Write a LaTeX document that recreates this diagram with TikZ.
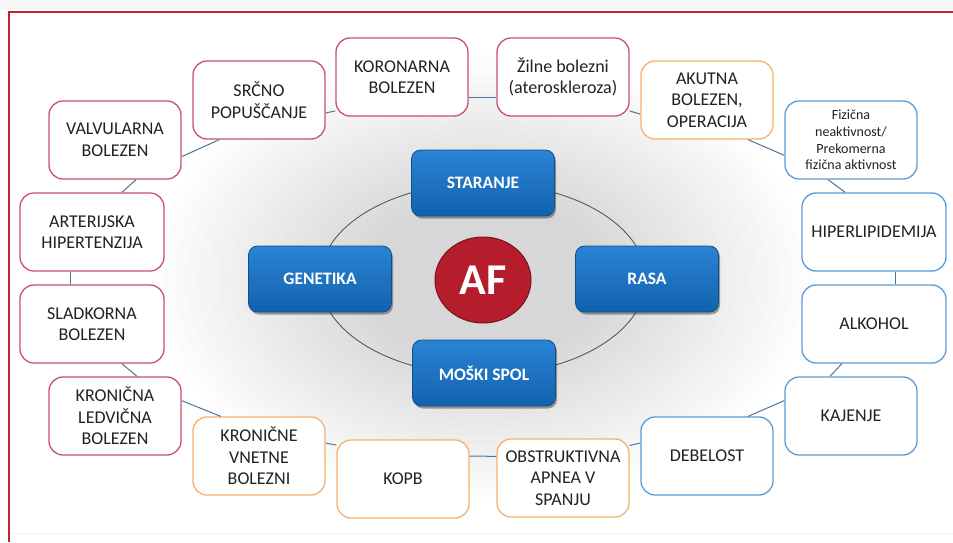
\documentclass[tikz,border=0pt]{standalone}
\usepackage{fontspec}
\setmainfont{Carlito}
\usetikzlibrary{shadows,shapes.geometric}
\definecolor{boxred}{HTML}{C9506F}
\definecolor{boxorange}{HTML}{F5B26B}
\definecolor{boxblue}{HTML}{5B9BD5}
\definecolor{linkc}{HTML}{4F7596}
\definecolor{keyblue}{HTML}{1262AE}
\definecolor{keytop}{HTML}{2A83D4}
\definecolor{afred}{HTML}{B51D2C}
\definecolor{framered}{HTML}{C0272D}
\definecolor{txt}{HTML}{222222}
\tikzset{
  box/.style={draw, rounded corners=14pt, fill=white, line width=1.3pt, align=center,
    text=txt, font=\fontsize{18}{21.5}\selectfont, inner sep=2pt,
    minimum width=132pt, minimum height=78pt},
  rbox/.style={box, draw=boxred},
  obox/.style={box, draw=boxorange},
  bbox/.style={box, draw=boxblue},
  wide/.style={minimum width=144pt},
  keybox/.style={rounded corners=9pt, minimum width=143pt, minimum height=66pt,
    top color=keytop, bottom color=keyblue, draw=keyblue!80!black, line width=0.8pt,
    text=white, font=\fontsize{17.5}{20}\selectfont\bfseries,
    drop shadow={shadow xshift=1.5pt, shadow yshift=-2.5pt, fill=black!80, opacity=0.45}},
  link/.style={draw=linkc, line width=1pt},
  ring/.style={draw=black!65, line width=0.9pt},
  glowlayer/.style={fill=black, fill opacity=0.0085}
}
\begin{document}
\begin{tikzpicture}[x=1pt,y=-1pt]
\useasboundingbox (0,0) rectangle (953,542);
\fill[white] (0,0) rectangle (953,542);
\fill[gray!7] (0,0) rectangle (953,9);
% glow
\foreach \k in {0,...,19} {
  \fill[glowlayer] (483,279) ellipse [x radius={330-11*\k}, y radius={225-7.5*\k}];
}
% frame
\draw[gray!12, line width=1pt] (12,533) -- (953,533);
\draw[framered, line width=2pt] (9,542) -- (9,11.5) -- (953,11.5);
% ring
\draw[ring] (483,279) ellipse [x radius=163, y radius=96];
% key boxes
\node[keybox] (star) at (483,183) {STARANJE};
\node[keybox] (gen) at (320,279) {GENETIKA};
\node[keybox] (rasa) at (647,279) {RASA};
\node[keybox] (mosk) at (484,373) {MOŠKI SPOL};
\node[ellipse, minimum width=96pt, minimum height=86pt, fill=afred, draw=afred!65!black,
  line width=1pt, text=white, font=\fontsize{44}{44}\selectfont\bfseries, inner sep=0pt] (af) at (483,280) {AF};
% outer boxes
\node[rbox] (srcno) at (259,100) {SRČNO\\POPUŠČANJE};
\node[rbox] (kor) at (402,77) {KORONARNA\\BOLEZEN};
\node[rbox] (zil) at (563,77) {Žilne bolezni\\(ateroskleroza)};
\node[obox] (akut) at (707,100) {AKUTNA\\BOLEZEN,\\OPERACIJA};
\node[bbox, font=\fontsize{14}{16.7}\selectfont] (fiz) at (851,140) {Fizična\\neaktivnost/\\Prekomerna\\fizična aktivnost};
\node[bbox, wide] (hiper) at (874,232) {HIPERLIPIDEMIJA};
\node[bbox, wide] (alk) at (874,324) {ALKOHOL};
\node[bbox] (kaj) at (851,416) {KAJENJE};
\node[bbox] (deb) at (707,456) {DEBELOST};
\node[obox] (obs) at (563,478) {OBSTRUKTIVNA\\APNEA V\\SPANJU};
\node[obox] (kopb) at (403,479) {KOPB};
\node[obox] (kron) at (259,456) {KRONIČNE\\VNETNE\\BOLEZNI};
\node[rbox] (ledv) at (115,416) {KRONIČNA\\LEDVIČNA\\BOLEZEN};
\node[rbox, wide] (slad) at (92,324) {SLADKORNA\\BOLEZEN};
\node[rbox, wide] (art) at (92,232) {ARTERIJSKA\\HIPERTENZIJA};
\node[rbox] (valv) at (115,140) {VALVULARNA\\BOLEZEN};
% connectors
\draw[link] (valv.-14) -- (srcno.225);
\draw[link] (srcno.-11) -- (kor.207);
\draw[link] (kor.-17) -- (zil.197);
\draw[link] (zil.-27) -- (akut.192);
\draw[link] (akut.-44) -- (fiz.193);
\draw[link] (fiz.240) -- (hiper.126);
\draw[link] (hiper.299) -- (alk.61);
\draw[link] (alk.231) -- (kaj.118);
\draw[link] (kaj.167) -- (deb.44);
\draw[link] (deb.169) -- (obs.26);
\draw[link] (obs.162) -- (kopb.19);
\draw[link] (kopb.153) -- (kron.11);
\draw[link] (kron.134) -- (ledv.13);
\draw[link] (ledv.61) -- (slad.-53);
\draw[link] (slad.119) -- (art.241);
\draw[link] (art.53) -- (valv.-62);
\end{tikzpicture}
\end{document}
